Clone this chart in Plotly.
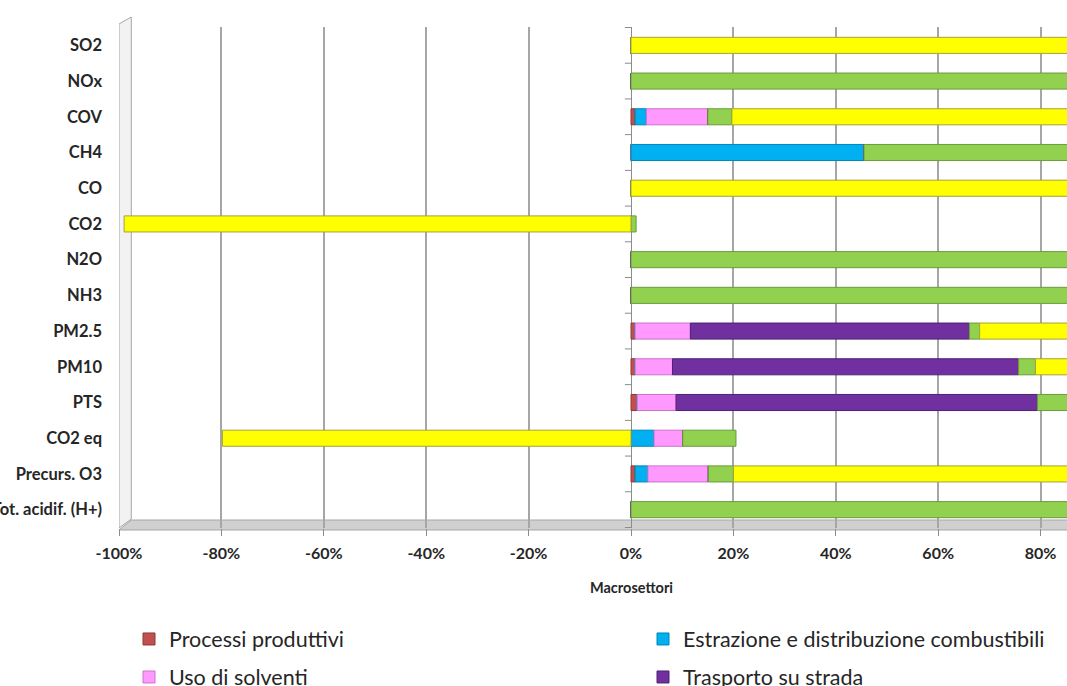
import plotly.graph_objects as go

categories = ["SO2", "NOx", "COV", "CH4", "CO", "CO2", "N2O", "NH3",
              "PM2.5", "PM10", "PTS", "CO2 eq", "Precurs. O3", "Tot. acidif. (H+)"]

series_names = ["Processi produttivi",
                "Estrazione e distribuzione combustibili",
                "Uso di solventi",
                "Trasporto su strada",
                "Altre sorgenti mobili e macchinari",
                "Altre sorgenti e assorbimenti"]

processi   = [0,   0,   0.8, 0,    0,   0,   0,   0,   0.8,  0.8,  1.2,  0,    0.8,  0]
estrazione = [0,   0,   2.2, 45.5, 0,   0,   0,   0,   0,    0,    0,    4.5,  2.5,  0]
solventi   = [0,   0,   12.0, 0,   0,   0,   0,   0,   10.8, 7.3,  7.6,  5.6,  11.8, 0]
trasporto  = [0,   0,   0,   0,    0,   0,   0,   0,   54.5, 67.6, 70.6, 0,    0,    0]
altre_mob  = [0,   100, 4.7, 54.5, 0,   1.0, 100, 100, 2.0,  3.3,  7.0,  10.4, 4.9,  100]
altre_ass  = [100, 0,   80.3, 0,   100, -99, 0,   0,   31.9, 21.0, 13.6, -79.8, 80.0, 0]

values = [processi, estrazione, solventi, trasporto, altre_mob, altre_ass]
colors = ["#C0504D", "#00B0F0", "#FF99FF", "#7030A0", "#92D050", "#FFFF00"]
edges = ["#8C3836", "#0086B8", "#C873C8", "#4E2172", "#6B9B3A", "#A3A33A"]

x_ticks = [-100, -80, -60, -40, -20, 0, 20, 40, 60, 80, 100]
x_ticklabels = [f"{v}%" for v in x_ticks]

L, R, T, B = 119, 0, 27, 158
W, H = 1067, 686
plot_w = W - L - R
plot_h = H - T - B


def py(p):
    return (H - B - p) / plot_h


def px(p):
    return (p - L) / plot_w


# legend grid: two columns, rows 38 px apart (third row falls below the page)
legend_ids = ["legend", "legend2", "legend3", "legend4", "legend5", "legend6"]
col_x = [px(129), px(643)]
row_y = [py(639), py(677), py(715)]

fig = go.Figure()
for i, (name, vals, col, edge) in enumerate(zip(series_names, values, colors, edges)):
    fig.add_trace(go.Bar(
        y=categories, x=vals, name=name, orientation="h",
        marker=dict(color=col, line=dict(color=edge, width=1)),
        legend=legend_ids[i], showlegend=True,
    ))

shapes = []
# left wall
shapes.append(dict(type="path", xref="x", yref="paper",
                   path=f"M -100 {py(528)} L -100 {py(24)} L -97.6 {py(17)} L -97.6 {py(519)} Z",
                   fillcolor="#F2F2F2", line=dict(color="#A6A6A6", width=1), layer="below"))
# floor
shapes.append(dict(type="path", xref="x", yref="paper",
                   path=f"M -100 {py(530)} L -97.6 {py(520)} L 90 {py(520)} L 90 {py(530)} Z",
                   fillcolor="#D0D0D0", line=dict(color="#A6A6A6", width=1), layer="below"))
# category tick marks on the zero axis
for i in range(len(categories) + 1):
    shapes.append(dict(type="line", xref="x", yref="y",
                       x0=-1.2, x1=0, y0=i - 0.5, y1=i - 0.5,
                       line=dict(color="#8C8C8C", width=1)))

legend_common = dict(orientation="h", xanchor="left", yanchor="middle",
                     font=dict(size=21.5, color="#262626"), bgcolor="rgba(0,0,0,0)")
legends = {}
for i, lid in enumerate(legend_ids):
    legends[lid] = dict(legend_common, x=col_x[i % 2], y=row_y[i // 2])

fig.update_layout(
    template="none",
    width=W, height=H,
    showlegend=True,
    margin=dict(l=L, r=R, t=T, b=B, autoexpand=False),
    paper_bgcolor="white", plot_bgcolor="white",
    barmode="relative", bargap=0.55,
    font=dict(family="Lato", color="#262626"),
    xaxis=dict(range=[-100, -100 + plot_w / 5.12],
               tickvals=x_ticks, ticktext=x_ticklabels,
               tickfont=dict(size=16, weight="bold", color="#262626"),
               showgrid=True, gridcolor="#A6A6A6", gridwidth=1.5,
               zeroline=True, zerolinecolor="#8C8C8C", zerolinewidth=1,
               ticks="outside", ticklen=7, tickcolor="#8C8C8C",
               ticklabelstandoff=4, showline=False, automargin=False),
    yaxis=dict(categoryorder="array", categoryarray=categories,
               autorange="reversed", showgrid=False, zeroline=False,
               tickfont=dict(size=16.5, weight="bold", color="#262626"),
               ticks="", ticklabelstandoff=16, showline=False, automargin=False),
    shapes=shapes,
    annotations=[dict(text="Macrosettori", x=0, xref="x", y=py(587), yref="paper",
                      yanchor="middle", showarrow=False,
                      font=dict(size=14.5, weight="bold", color="#262626"))],
    **legends,
)

fig.write_html("out.html")
